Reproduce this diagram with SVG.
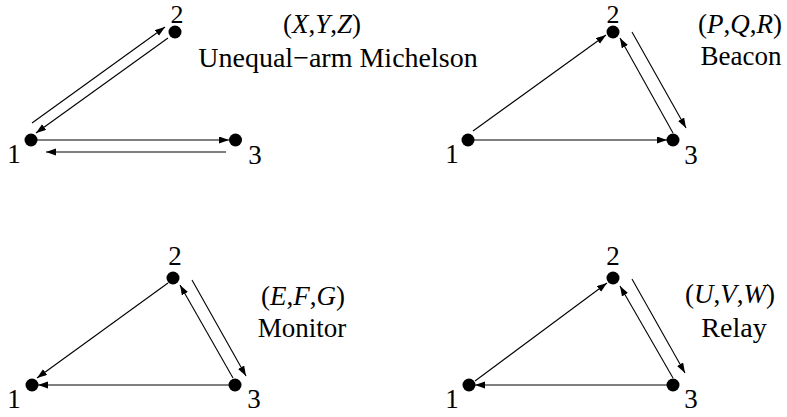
<svg xmlns="http://www.w3.org/2000/svg" width="787" height="417" viewBox="0 0 787 417">
<defs>
<style>
text{font-family:'Liberation Serif','Times New Roman',Times,'DejaVu Serif',serif;font-size:27px;fill:#000}
.c{text-anchor:middle}
.d{font-size:26px}
.w{font-size:28px}
.i{font-style:italic}
.dot{fill:#000}
.ln{stroke:#000;stroke-width:1.1;fill:none;marker-end:url(#ah)}
</style>
<marker id="ah" markerUnits="userSpaceOnUse" markerWidth="11" markerHeight="8" refX="10" refY="3.5" orient="auto">
<path d="M0,0 L10,3.5 L0,7 z" fill="#000"/>
</marker>
</defs>
<rect width="787" height="417" fill="#fff"/>
<g id="connectors">
<line class="ln" x1="32" y1="123" x2="165" y2="27"/>
<line class="ln" x1="168" y1="38" x2="36" y2="133"/>
<line class="ln" x1="37" y1="140" x2="229" y2="140"/>
<line class="ln" x1="226" y1="152" x2="46" y2="152"/>
<line class="ln" x1="473" y1="131" x2="606" y2="35"/>
<line class="ln" x1="673" y1="133" x2="620" y2="38"/>
<line class="ln" x1="632" y1="32" x2="686" y2="128"/>
<line class="ln" x1="474" y1="140" x2="667" y2="140"/>
<line class="ln" x1="168" y1="283" x2="37" y2="378"/>
<line class="ln" x1="233" y1="378" x2="180" y2="285"/>
<line class="ln" x1="192" y1="280" x2="246" y2="376"/>
<line class="ln" x1="229" y1="385" x2="38" y2="385"/>
<line class="ln" x1="475" y1="381" x2="607" y2="283"/>
<line class="ln" x1="673" y1="378" x2="620" y2="286"/>
<line class="ln" x1="632" y1="279" x2="685" y2="373"/>
<line class="ln" x1="667" y1="385" x2="475" y2="385"/>
</g>
<g id="p1-n1"><circle class="dot" cx="31" cy="140" r="6.5"/><text class="c" x="14" y="163">1</text></g>
<g id="p1-n2"><circle class="dot" cx="175" cy="32" r="6.5"/><text class="c d" x="177" y="23">2</text></g>
<g id="p1-n3"><circle class="dot" cx="235.5" cy="140" r="6.5"/><text class="c" x="255" y="164">3</text></g>
<g id="p1-label"><text class="c" x="322" y="33">(<tspan class="i">X</tspan>,<tspan class="i">Y</tspan>,<tspan class="i">Z</tspan>)</text><text class="c w" x="338" y="67">Unequal−arm Michelson</text></g>
<g id="p2-n1"><circle class="dot" cx="468" cy="140" r="6.5"/><text class="c" x="452" y="163">1</text></g>
<g id="p2-n2"><circle class="dot" cx="613" cy="32" r="6.5"/><text class="c d" x="613" y="23">2</text></g>
<g id="p2-n3"><circle class="dot" cx="673" cy="140" r="6.5"/><text class="c" x="691" y="164">3</text></g>
<g id="p2-label"><text class="c" x="740" y="33">(<tspan class="i">P</tspan>,<tspan class="i">Q</tspan>,<tspan class="i">R</tspan>)</text><text class="c" x="741" y="65">Beacon</text></g>
<g id="p3-n1"><circle class="dot" cx="32" cy="385" r="6.5"/><text class="c" x="14" y="408">1</text></g>
<g id="p3-n2"><circle class="dot" cx="173" cy="278" r="6.5"/><text class="c" x="175" y="265">2</text></g>
<g id="p3-n3"><circle class="dot" cx="235" cy="385" r="6.5"/><text class="c" x="254" y="408">3</text></g>
<g id="p3-label"><text class="c" x="303" y="305">(<tspan class="i">E</tspan>,<tspan class="i">F</tspan>,<tspan class="i">G</tspan>)</text><text class="c" x="302" y="337">Monitor</text></g>
<g id="p4-n1"><circle class="dot" cx="469" cy="385" r="6.5"/><text class="c" x="452" y="408">1</text></g>
<g id="p4-n2"><circle class="dot" cx="613" cy="278" r="6.5"/><text class="c" x="613" y="265">2</text></g>
<g id="p4-n3"><circle class="dot" cx="673" cy="385" r="6.5"/><text class="c" x="691" y="408">3</text></g>
<g id="p4-label"><text class="c" x="730" y="303">(<tspan class="i">U</tspan>,<tspan class="i">V</tspan>,<tspan class="i">W</tspan>)</text><text class="c w" x="734" y="337">Relay</text></g>
</svg>
